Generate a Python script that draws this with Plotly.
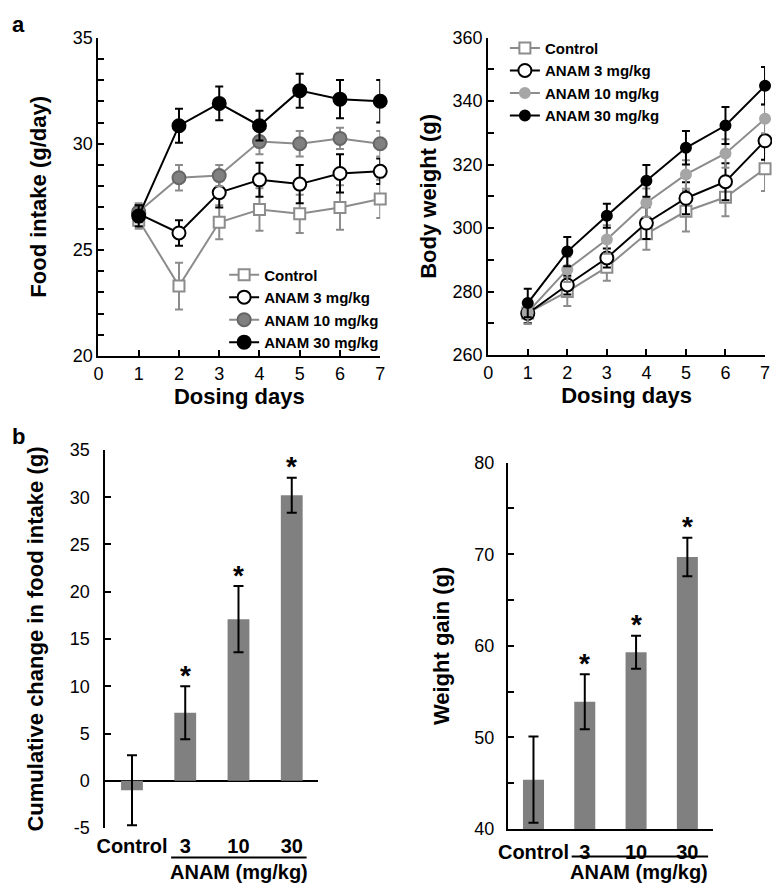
import plotly.graph_objects as go

# ---------------- data ----------------
days = [1, 2, 3, 4, 5, 6, 7]
series_names = ["Control", "ANAM 3 mg/kg", "ANAM 10 mg/kg", "ANAM 30 mg/kg"]

food_ctrl = [26.4, 23.3, 26.3, 26.9, 26.7, 27.0, 27.4]
food_ctrl_err = [0.4, 1.1, 0.8, 1.0, 0.9, 1.05, 0.9]
food_3 = [26.7, 25.8, 27.7, 28.3, 28.1, 28.6, 28.7]
food_3_err = [0.4, 0.6, 0.7, 0.8, 0.9, 0.9, 0.6]
food_10 = [26.8, 28.4, 28.5, 30.1, 30.0, 30.25, 30.0]
food_10_err = [0.4, 0.6, 0.5, 0.6, 0.6, 0.5, 0.6]
food_30 = [26.6, 30.85, 31.9, 30.85, 32.5, 32.1, 32.0]
food_30_err = [0.5, 0.8, 0.8, 0.7, 0.8, 0.9, 1.0]

bw_ctrl = [273.3, 280.0, 287.7, 298.2, 305.3, 309.7, 318.7]
bw_ctrl_err = [3.5, 4.5, 4.3, 5.0, 6.4, 6.0, 7.0]
bw_3 = [273.1, 282.1, 290.6, 301.6, 309.4, 314.6, 327.5]
bw_3_err = [3.0, 3.0, 3.0, 5.0, 5.0, 5.8, 6.0]
bw_10 = [273.5, 287.0, 296.4, 308.0, 316.9, 323.5, 334.4]
bw_10_err = [3.5, 4.0, 4.5, 4.5, 4.5, 4.5, 4.5]
bw_30 = [276.4, 292.6, 303.9, 314.9, 325.3, 332.3, 344.8]
bw_30_err = [4.5, 4.6, 3.8, 5.0, 5.3, 5.8, 5.9]

bar_cats = ["Control", "3", "10", "30"]
cum_food = [-1.0, 7.2, 17.1, 30.2]
cum_food_err = [3.7, 2.8, 3.5, 1.85]
wgain = [45.4, 53.9, 59.3, 69.7]
wgain_err = [4.7, 3.0, 1.8, 2.1]
signif = ["", "*", "*", "*"]

food_ticks = list(range(20, 36))
food_ticktext = [str(v) if v % 5 == 0 else "" for v in food_ticks]
bw_ticks = list(range(260, 361, 10))
bw_ticktext = [str(v) if v % 20 == 0 else "" for v in bw_ticks]
cum_ticks = list(range(-5, 36, 5))
cum_ticktext = [str(v) for v in cum_ticks]
wg_ticks = list(range(40, 81, 5))
wg_ticktext = [str(v) if v % 10 == 0 else "" for v in wg_ticks]
x_ticks = [0, 1, 2, 3, 4, 5, 6, 7]

# ---------------- styling ----------------
PAGE_OFF = 8          # default body margin of the html page
W, H = 780 - 2 * PAGE_OFF, 895 - 2 * PAGE_OFF
FONT = "Liberation Sans, Arial, sans-serif"
GRAY = "#8c8c8c"
BLACK = "#000000"

def fx(p):
    return min(1.0, max(0.0, (p - PAGE_OFF) / W))

def fy(p):
    return min(1.0, max(0.0, 1 - (p - PAGE_OFF) / H))

def dx(a, b):
    return [fx(a), fx(b)]

def dy(top, bottom):
    return [fy(bottom), fy(top)]

fig = go.Figure()

def line_trace(x, y, err, name, xa, ya, legend, lcolor, msym, mfill, mline, msize):
    return go.Scatter(
        x=x, y=y, name="<b>%s</b>" % name, mode="lines+markers",
        xaxis=xa, yaxis=ya, legend=legend,
        line=dict(color=lcolor, width=2),
        marker=dict(symbol=msym, size=msize, color=mfill, line=dict(color=mline, width=2)),
        error_y=dict(type="data", array=err, color=lcolor, thickness=2, width=4),
        cliponaxis=False,
    )

# Panel a-left: food intake
fig.add_trace(line_trace(days, food_ctrl, food_ctrl_err, series_names[0], "x", "y", "legend",
                         GRAY, "square", "white", GRAY, 11))
fig.add_trace(line_trace(days, food_3, food_3_err, series_names[1], "x", "y", "legend",
                         BLACK, "circle", "white", BLACK, 13))
fig.add_trace(line_trace(days, food_10, food_10_err, series_names[2], "x", "y", "legend",
                         GRAY, "circle", "#808080", "#666666", 13))
fig.add_trace(line_trace(days, food_30, food_30_err, series_names[3], "x", "y", "legend",
                         BLACK, "circle", BLACK, BLACK, 13))

# Panel a-right: body weight
fig.add_trace(line_trace(days, bw_ctrl, bw_ctrl_err, series_names[0], "x2", "y2", "legend2",
                         GRAY, "square", "white", GRAY, 11))
fig.add_trace(line_trace(days, bw_3, bw_3_err, series_names[1], "x2", "y2", "legend2",
                         BLACK, "circle", "white", BLACK, 13))
fig.add_trace(line_trace(days, bw_10, bw_10_err, series_names[2], "x2", "y2", "legend2",
                         GRAY, "circle", "#a6a6a6", "#a6a6a6", 10))
fig.add_trace(line_trace(days, bw_30, bw_30_err, series_names[3], "x2", "y2", "legend2",
                         BLACK, "circle", BLACK, BLACK, 10))

# Panel b: bars
def bar_trace(y, err, xa, ya):
    return go.Bar(
        x=bar_cats, y=y, xaxis=xa, yaxis=ya, showlegend=False,
        marker=dict(color="#808080", line=dict(width=0)), width=0.41,
        error_y=dict(type="data", array=err, color=BLACK, thickness=2, width=5),
    )

fig.add_trace(bar_trace(cum_food, cum_food_err, "x3", "y3"))
fig.add_trace(bar_trace(wgain, wgain_err, "x4", "y4"))

# significance stars above the error bars (x given as category index)
for xa, ya, vals, errs in [("x3", "y3", cum_food, cum_food_err), ("x4", "y4", wgain, wgain_err)]:
    for i, (v, e, s) in enumerate(zip(vals, errs, signif)):
        if s:
            fig.add_annotation(x=i, y=v + e, xref=xa, yref=ya, text="<b>%s</b>" % s,
                               showarrow=False, xanchor="center", yanchor="middle", yshift=11,
                               font=dict(family=FONT, size=28, color=BLACK))

axis_common = dict(showline=True, linecolor=BLACK, linewidth=2, showgrid=False,
                   zeroline=False, ticks="inside", tickcolor=BLACK, tickwidth=2,
                   ticklen=6, tickfont=dict(family=FONT, size=18, color=BLACK))
title_font = dict(family=FONT, size=22, color=BLACK)

fig.update_layout(
    width=W, height=H, margin=dict(l=0, r=0, t=0, b=0),
    paper_bgcolor="white", plot_bgcolor="white",
    font=dict(family=FONT, color=BLACK),
    xaxis=dict(axis_common, domain=dx(91, 378), range=[0, 7], tickvals=x_ticks,
               anchor="y", title=dict(text="<b>Dosing days</b>", font=title_font, standoff=4)),
    yaxis=dict(axis_common, domain=dy(28, 354), range=[20, 35], tickvals=food_ticks,
               ticktext=food_ticktext, anchor="x",
               title=dict(text="<b>Food intake (g/day)</b>", font=title_font, standoff=20)),
    xaxis2=dict(axis_common, domain=dx(488, 770), range=[0, 7], tickvals=x_ticks,
                anchor="y2", title=dict(text="<b>Dosing days</b>", font=title_font, standoff=4)),
    yaxis2=dict(axis_common, domain=dy(28, 353), range=[260, 360], tickvals=bw_ticks,
                ticktext=bw_ticktext, anchor="x2",
                title=dict(text="<b>Body weight (g)</b>", font=title_font, standoff=10)),
    xaxis3=dict(showline=False, showgrid=False, zeroline=False, ticks="", anchor="y3",
                domain=dx(98, 315), range=[-0.5, 3.5], ticklabelstandoff=4,
                tickvals=bar_cats, ticktext=["<b>%s</b>" % c for c in bar_cats],
                tickfont=dict(family=FONT, size=20, color=BLACK)),
    yaxis3=dict(axis_common, domain=dy(450, 837), range=[-5, 35], tickvals=cum_ticks,
                ticktext=cum_ticktext, anchor="x3", ticklabelstandoff=10,
                zeroline=True, zerolinecolor=BLACK, zerolinewidth=2,
                title=dict(text="<b>Cumulative change in food intake (g)</b>", font=title_font, standoff=20)),
    xaxis4=dict(showline=True, linecolor=BLACK, linewidth=2, showgrid=False, zeroline=False,
                ticks="", anchor="y4", domain=dx(508, 717), range=[-0.5, 3.5], ticklabelstandoff=4,
                tickvals=bar_cats, ticktext=["<b>%s</b>" % c for c in bar_cats],
                tickfont=dict(family=FONT, size=20, color=BLACK)),
    yaxis4=dict(axis_common, domain=dy(463, 838), range=[40, 80], tickvals=wg_ticks,
                ticktext=wg_ticktext, anchor="x4", ticklabelstandoff=8,
                title=dict(text="<b>Weight gain (g)</b>", font=title_font, standoff=18)),
    legend=dict(x=fx(219), y=fy(254), xanchor="left", yanchor="top",
                bgcolor="rgba(0,0,0,0)", font=dict(family=FONT, size=15, color=BLACK),
                itemwidth=30, tracegroupgap=0),
    legend2=dict(x=fx(505), y=fy(22), xanchor="left", yanchor="top",
                 bgcolor="rgba(0,0,0,0)", font=dict(family=FONT, size=15, color=BLACK),
                 itemwidth=30, tracegroupgap=0),
)

# panel letters and group label
annots = [
    dict(text="<b>a</b>", x=10, y=15, size=22),
    dict(text="<b>b</b>", x=10, y=436, size=22),
    dict(text="<b>ANAM (mg/kg)</b>", x=234, y=882, size=20),
    dict(text="<b>ANAM (mg/kg)</b>", x=642, y=882, size=20),
]
for a in annots:
    fig.add_annotation(text=a["text"], x=fx(a["x"]), y=fy(a["y"]), xref="paper", yref="paper",
                       showarrow=False, xanchor="center", yanchor="middle",
                       font=dict(family=FONT, size=a["size"], color=BLACK))

# group brackets under the dose labels
for x0, x1, yy in [(165, 303, 867), (573, 712, 866)]:
    fig.add_shape(type="line", xref="paper", yref="paper", x0=fx(x0), x1=fx(x1),
                  y0=fy(yy), y1=fy(yy), line=dict(color=BLACK, width=2))

fig.write_html("out.html")
